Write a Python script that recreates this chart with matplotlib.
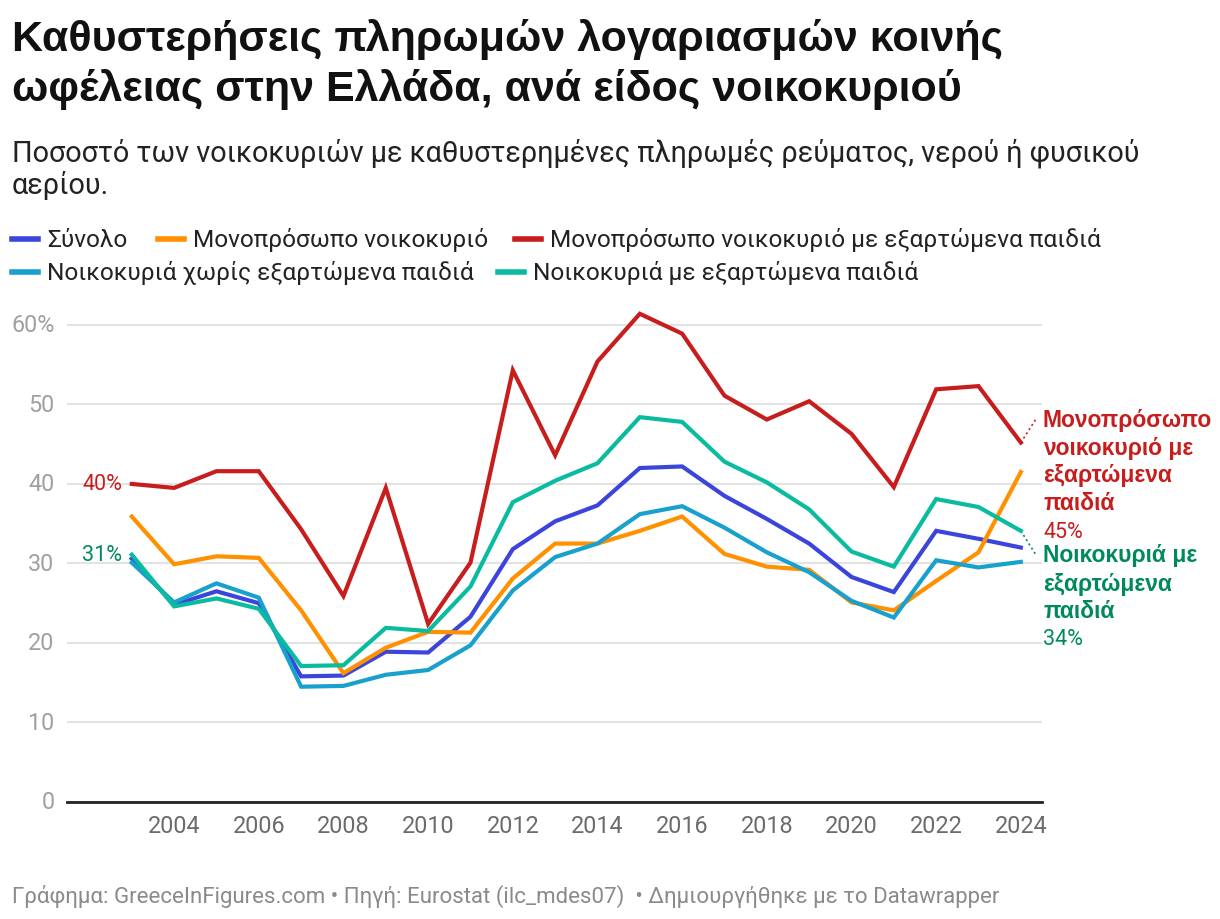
import matplotlib.pyplot as plt
from matplotlib.lines import Line2D

plt.rcParams['font.family'] = ['Roboto', 'DejaVu Sans']

# data (% of households)
years = list(range(2003, 2025))
total = [30.6, 24.8, 26.5, 25.0, 15.8, 15.9, 18.9, 18.8, 23.3, 31.8, 35.3,
         37.3, 42.0, 42.2, 38.5, 35.6, 32.5, 28.3, 26.4, 34.1, 33.1, 32.0]
single = [35.9, 29.9, 30.9, 30.7, 24.1, 16.2, 19.4, 21.4, 21.3, 28.1, 32.5,
          32.5, 34.1, 35.9, 31.2, 29.6, 29.2, 25.1, 24.1, 27.8, 31.4, 41.5]
single_kids = [40.0, 39.5, 41.6, 41.6, 34.3, 25.9, 39.5, 22.4, 30.1, 54.3, 43.6,
               55.4, 61.4, 58.9, 51.1, 48.1, 50.4, 46.3, 39.6, 51.9, 52.3, 45.2]
no_kids = [30.1, 25.1, 27.5, 25.7, 14.5, 14.6, 16.0, 16.6, 19.7, 26.6, 30.8,
           32.5, 36.2, 37.2, 34.5, 31.4, 28.9, 25.3, 23.2, 30.4, 29.5, 30.2]
with_kids = [31.1, 24.6, 25.6, 24.3, 17.1, 17.2, 21.9, 21.5, 27.1, 37.7, 40.4,
             42.6, 48.4, 47.8, 42.8, 40.2, 36.8, 31.5, 29.6, 38.1, 37.1, 34.1]

names = ["Σύνολο", "Μονοπρόσωπο νοικοκυριό", "Μονοπρόσωπο νοικοκυριό με εξαρτώμενα παιδιά",
         "Νοικοκυριά χωρίς εξαρτώμενα παιδιά", "Νοικοκυριά με εξαρτώμενα παιδιά"]
colors = ["#3b45db", "#ff9000", "#c71e1d", "#18a1cd", "#09bb9f"]
series = [total, single, single_kids, no_kids, with_kids]

yticks = [0, 10, 20, 30, 40, 50, 60]
ytick_labels = ["0", "10", "20", "30", "40", "50", "60%"]
xticks = list(range(2004, 2025, 2))

W, H = 1220, 920
fig = plt.figure(figsize=(W / 100, H / 100), dpi=100)

# titles
title_font = ['Liberation Sans', 'DejaVu Sans']
fig.text(12 / W, 1 - 40 / H, "Καθυστερήσεις πληρωμών λογαριασμών κοινής",
         fontsize=31, fontweight='bold', family=title_font, va='center', color='#111111')
fig.text(12 / W, 1 - 89 / H, "ωφέλειας στην Ελλάδα, ανά είδος νοικοκυριού",
         fontsize=31, fontweight='bold', family=title_font, va='center', color='#111111')
fig.text(12 / W, 1 - 153 / H, "Ποσοστό των νοικοκυριών με καθυστερημένες πληρωμές ρεύματος, νερού ή φυσικού",
         fontsize=20.8, va='center', color='#222222')
fig.text(12 / W, 1 - 185 / H, "αερίου.", fontsize=20.8, va='center', color='#222222')

# legend, drawn by hand in two rows
legend_pos = [(12, 240), (158, 240), (515, 240), (12, 273), (498, 273)]
for (px, py), name, c in zip(legend_pos, names, colors):
    fig.add_artist(Line2D([px / W, (px + 26) / W], [1 - py / H, 1 - py / H],
                          color=c, lw=4, transform=fig.transFigure))
    fig.text((px + 35) / W, 1 - py / H, name, fontsize=17.6, va='center', color='#222222')

# main axes
ax = fig.add_axes([67 / W, (H - 803) / H, (1042 - 67) / W, (803 - 310) / H])
for s, c in zip(series, colors):
    ax.plot(years, s, color=c, lw=3, solid_joinstyle='miter', clip_on=False, zorder=3)

ax.set_xlim(2001.47, 2024.5)
ax.set_ylim(0, 62)
ax.set_yticks(yticks)
ax.set_yticklabels(ytick_labels)
ax.set_xticks(xticks)
ax.grid(axis='y', color='#e3e3e3', lw=1.5)
ax.set_axisbelow(True)
for sp in ['top', 'right', 'left']:
    ax.spines[sp].set_visible(False)
ax.spines['bottom'].set_color('#222222')
ax.spines['bottom'].set_linewidth(2)
ax.spines['bottom'].set_zorder(4)
ax.tick_params(axis='y', length=0, pad=9, labelsize=16.8, labelcolor='#a0a0a0')
ax.tick_params(axis='x', length=0, pad=9, labelsize=16.8, labelcolor='#6b6b6b')
for lbl in ax.get_yticklabels():
    lbl.set_verticalalignment('center')

# start labels
red_txt = "#c71e1d"
green_txt = "#008a5c"
ax.annotate(f"{single_kids[0]:.0f}%", (years[0], single_kids[0]), xytext=(-7, 0),
            textcoords='offset points', ha='right', va='center', fontsize=15.5, color=red_txt)
ax.annotate(f"{with_kids[0]:.0f}%", (years[0], with_kids[0]), xytext=(-7, 0),
            textcoords='offset points', ha='right', va='center', fontsize=15.5, color=green_txt)

# end labels
def end_label(val, text_y, lines, color):
    x_end = years[-1]
    # dotted connector from line end to label
    tx = ax.transData.inverted()
    top = tx.transform(fig.transFigure.transform((1036 / W, 1 - text_y / H)))
    ax.plot([x_end, top[0]], [val, top[1]], ls=(0, (1.2, 1.8)), color=color, lw=1.2, clip_on=False)
    y = text_y
    for ln in lines:
        fig.text(1043 / W, 1 - y / H, ln, fontsize=16.5, fontweight='bold', family=title_font,
                 color=color, va='center')
        y += 28
    fig.text(1043 / W, 1 - y / H, f"{val:.0f}%", fontsize=15.5, color=color, va='center')

end_label(single_kids[-1], 420, ["Μονοπρόσωπο", "νοικοκυριό με", "εξαρτώμενα", "παιδιά"], red_txt)
end_label(with_kids[-1], 556, ["Νοικοκυριά με", "εξαρτώμενα", "παιδιά"], green_txt)

# footer
fig.text(12 / W, 1 - 896 / H,
         "Γράφημα: GreeceInFigures.com • Πηγή: Eurostat (ilc_mdes07)  • Δημιουργήθηκε με το Datawrapper",
         fontsize=16, color='#8a8a8a', va='center')

fig.savefig("out.png", dpi=100)
plt.close()
